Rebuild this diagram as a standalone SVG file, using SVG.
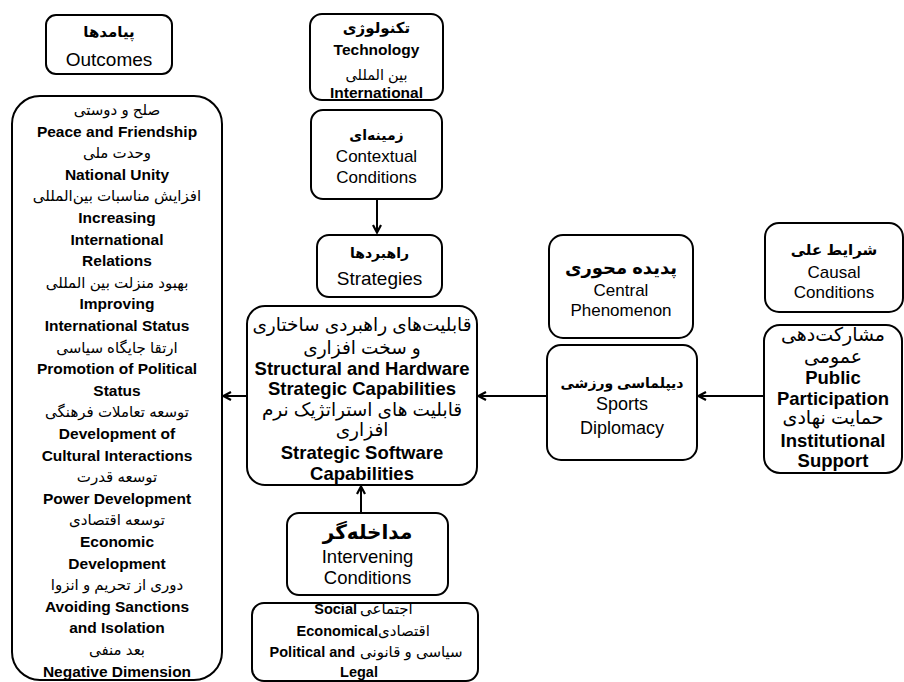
<svg xmlns="http://www.w3.org/2000/svg" width="904" height="682" viewBox="0 0 904 682">
<defs>
<style>
.box{fill:#fff;stroke:#000;stroke-width:2}
text{font-family:"Liberation Sans","DejaVu Sans",sans-serif;fill:#000;text-anchor:middle}
.fa{font-size:15px}
.fab{font-size:15px;font-weight:bold}
.en{font-size:15.5px;font-weight:bold}
.t{font-size:17px}
.enb{font-size:18.5px;font-weight:bold}
.fam{font-size:18.5px}
.conn{stroke:#000;stroke-width:2;fill:none}
</style>
<marker id="arr" viewBox="0 0 10 10" refX="9" refY="5" markerWidth="10" markerHeight="10" markerUnits="userSpaceOnUse" orient="auto">
<path d="M1,1 L8.5,5 L1,9" fill="none" stroke="#000" stroke-width="2.2"/>
</marker>
</defs>
<rect width="904" height="682" fill="#fff"/>

<g id="outcomes-title">
<rect class="box" x="46" y="15" width="126" height="59" rx="10"/>
<text class="fab" x="109" y="37">پیامدها</text>
<text x="109" y="66" style="font-size:19px">Outcomes</text>
</g>

<g id="outcomes">
<rect class="box" x="12" y="96" width="210" height="584" rx="28"/>
<text class="fa" x="117" y="115">صلح و دوستی</text>
<text class="en" x="117" y="136.6">Peace and Friendship</text>
<text class="fa" x="117" y="158.2">وحدت ملی</text>
<text class="en" x="117" y="179.8">National Unity</text>
<text class="fa" x="117" y="201.4">افزایش مناسبات بین‌المللی</text>
<text class="en" x="117" y="223">Increasing</text>
<text class="en" x="117" y="244.6">International</text>
<text class="en" x="117" y="266.2">Relations</text>
<text class="fa" x="117" y="287.8">بهبود منزلت بین المللی</text>
<text class="en" x="117" y="309.4">Improving</text>
<text class="en" x="117" y="331">International Status</text>
<text class="fa" x="117" y="352.6">ارتقا جایگاه سیاسی</text>
<text class="en" x="117" y="374.2">Promotion of Political</text>
<text class="en" x="117" y="395.8">Status</text>
<text class="fa" x="117" y="417.4">توسعه تعاملات فرهنگی</text>
<text class="en" x="117" y="439">Development of</text>
<text class="en" x="117" y="460.6">Cultural Interactions</text>
<text class="fa" x="117" y="482.2">توسعه قدرت</text>
<text class="en" x="117" y="503.8">Power Development</text>
<text class="fa" x="117" y="525.4">توسعه اقتصادی</text>
<text class="en" x="117" y="547">Economic</text>
<text class="en" x="117" y="568.6">Development</text>
<text class="fa" x="117" y="590.2">دوری از تحریم و انزوا</text>
<text class="en" x="117" y="611.8">Avoiding Sanctions</text>
<text class="en" x="117" y="633.4">and Isolation</text>
<text class="fa" x="117" y="655">بعد منفی</text>
<text class="en" x="117" y="676.6">Negative Dimension</text>
</g>

<g id="technology">
<rect class="box" x="310" y="14" width="133" height="86" rx="12"/>
<text class="fab" x="376.5" y="33">تکنولوژی</text>
<text class="en" x="376.5" y="55">Technology</text>
<text class="fa" x="376.5" y="80" style="font-size:14.5px">بین المللی</text>
<text class="en" x="376.5" y="98">International</text>
</g>

<g id="contextual">
<rect class="box" x="311" y="110" width="131" height="89" rx="12"/>
<text class="fab" x="376.5" y="140" style="font-size:14px">زمینه‌ای</text>
<text class="t" x="376.5" y="162">Contextual</text>
<text class="t" x="376.5" y="183">Conditions</text>
</g>

<g id="strategies-title">
<rect class="box" x="317" y="235" width="125" height="62" rx="12"/>
<text class="fab" x="379.5" y="258" style="font-size:14px">راهبردها</text>
<text x="379.5" y="285" style="font-size:19px">Strategies</text>
</g>

<g id="strategies">
<rect class="box" x="247" y="306" width="230" height="179" rx="18"/>
<text class="fam" x="362" y="331">قابلیت‌های راهبردی ساختاری</text>
<text class="fam" x="362" y="354">و سخت افزاری</text>
<text class="enb" x="362" y="374.5">Structural and Hardware</text>
<text class="enb" x="362" y="394.5">Strategic Capabilities</text>
<text class="fam" x="362" y="416">قابلیت های استراتژیک نرم</text>
<text class="fam" x="362" y="436">افزاری</text>
<text class="enb" x="362" y="458.5">Strategic Software</text>
<text class="enb" x="362" y="479.5">Capabilities</text>
</g>

<g id="intervening">
<rect class="box" x="287" y="513" width="161" height="82" rx="12"/>
<text class="fab" x="367.5" y="539" style="font-size:20px">مداخله‌گر</text>
<text x="367.5" y="562.5" style="font-size:18.5px">Intervening</text>
<text x="367.5" y="583.5" style="font-size:18.5px">Conditions</text>
</g>

<g id="intervening-items">
<rect class="box" x="252" y="603" width="226" height="78" rx="12"/>
<text x="357" y="614" style="font-size:14.5px;font-weight:bold;text-anchor:end">Social</text>
<text class="fa" x="360" y="614" style="text-anchor:start">اجتماعی</text>
<text x="378" y="636" style="font-size:14.5px;font-weight:bold;text-anchor:end">Economical</text>
<text class="fa" x="378" y="636" style="text-anchor:start">اقتصادی</text>
<text x="355" y="657" style="font-size:14.5px;font-weight:bold;text-anchor:end">Political and</text>
<text class="fa" x="360" y="657" style="text-anchor:start">سیاسی و قانونی</text>
<text x="359" y="677" style="font-size:14.5px;font-weight:bold">Legal</text>
</g>

<g id="central-title">
<rect class="box" x="549" y="235" width="144" height="103" rx="14"/>
<text class="fab" x="621" y="274" style="font-size:18px">پدیده محوری</text>
<text class="t" x="621" y="296">Central</text>
<text class="t" x="621" y="316">Phenomenon</text>
</g>

<g id="sports">
<rect class="box" x="547" y="345" width="150" height="115" rx="14"/>
<text class="fab" x="622" y="388" style="font-size:14px">دیپلماسی ورزشی</text>
<text x="622" y="409.5" style="font-size:18px">Sports</text>
<text x="622" y="433.5" style="font-size:18px">Diplomacy</text>
</g>

<g id="causal-title">
<rect class="box" x="765" y="223" width="138" height="89" rx="14"/>
<text class="fab" x="834" y="255">شرایط علی</text>
<text class="t" x="834" y="278">Causal</text>
<text class="t" x="834" y="298">Conditions</text>
</g>

<g id="causal">
<rect class="box" x="764" y="325" width="138" height="148" rx="16"/>
<text class="fam" x="833" y="341" style="font-size:19px">مشارکت‌دهی</text>
<text class="fam" x="833" y="363" style="font-size:19px">عمومی</text>
<text class="enb" x="833" y="383.5">Public</text>
<text class="enb" x="833" y="404.5">Participation</text>
<text class="fam" x="833" y="424" style="font-size:19px">حمایت نهادی</text>
<text class="enb" x="833" y="446.5">Institutional</text>
<text class="enb" x="833" y="466.5">Support</text>
</g>

<g id="connectors">
<line class="conn" x1="377" y1="200" x2="377" y2="233" marker-end="url(#arr)"/>
<line class="conn" x1="247" y1="396" x2="223" y2="396" marker-end="url(#arr)"/>
<line class="conn" x1="547" y1="396" x2="478" y2="396" marker-end="url(#arr)"/>
<line class="conn" x1="764" y1="396" x2="698" y2="396" marker-end="url(#arr)"/>
<line class="conn" x1="361" y1="513" x2="361" y2="486" marker-end="url(#arr)"/>
</g>
</svg>
